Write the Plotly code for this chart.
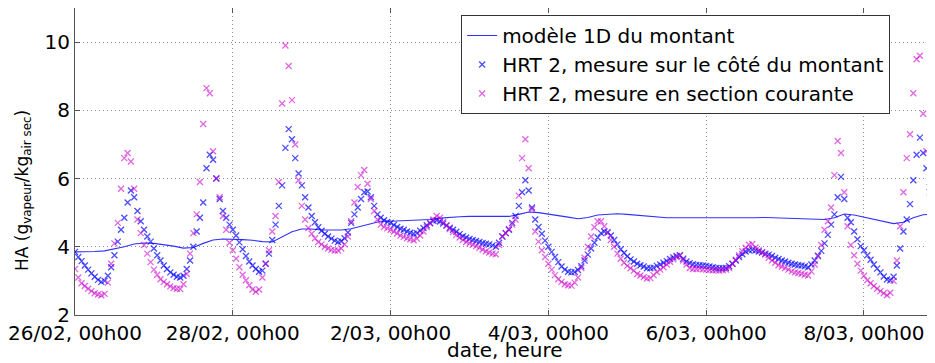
import plotly.graph_objects as go
import pandas as pd

START = "2014-02-26 00:00"

# Hourly measurements (g_vapeur / kg_air sec), from 26/02 00h00
cote_montant = [
    3.85, 3.70, 3.58, 3.45, 3.33, 3.22, 3.12, 3.03, 2.97, 3.00, 3.15, 3.40, 3.75, 4.15, 4.50, 4.85, 5.30, 5.65, 5.45, 5.05, 4.75, 4.50, 4.30, 4.15,
    3.95, 3.75, 3.60, 3.45, 3.35, 3.25, 3.18, 3.12, 3.10, 3.15, 3.35, 3.60, 4.00, 4.45, 4.85, 5.30, 6.30, 6.70, 6.55, 6.00, 5.40, 5.05, 4.85, 4.65,
    4.50, 4.33, 4.13, 3.93, 3.73, 3.57, 3.45, 3.35, 3.27, 3.30, 3.50, 3.80, 4.20, 4.65, 5.20, 5.80, 6.90, 7.45, 7.15, 6.60, 6.15, 5.80, 5.45, 5.15,
    4.90, 4.72, 4.57, 4.47, 4.38, 4.30, 4.24, 4.18, 4.14, 4.16, 4.25, 4.42, 4.70, 4.95, 5.15, 5.40, 5.60, 5.62, 5.45, 5.20, 4.95, 4.85, 4.78, 4.73,
    4.70, 4.64, 4.58, 4.53, 4.50, 4.45, 4.41, 4.38, 4.40, 4.47, 4.55, 4.63, 4.70, 4.76, 4.78, 4.74, 4.68, 4.62, 4.56, 4.50, 4.44, 4.37, 4.31, 4.27,
    4.23, 4.20, 4.17, 4.14, 4.11, 4.09, 4.07, 4.04, 4.00, 4.12, 4.30, 4.40, 4.50, 4.70, 4.90, 5.20, 5.60, 5.95, 5.65, 5.15, 4.80, 4.58, 4.38, 4.18,
    4.00, 3.85, 3.70, 3.55, 3.42, 3.33, 3.27, 3.25, 3.26, 3.32, 3.43, 3.60, 3.77, 3.95, 4.12, 4.27, 4.40, 4.45, 4.43, 4.33, 4.20, 4.07, 3.93, 3.82,
    3.72, 3.63, 3.57, 3.50, 3.46, 3.42, 3.37, 3.37, 3.39, 3.44, 3.48, 3.53, 3.58, 3.64, 3.69, 3.73, 3.75, 3.65, 3.57, 3.52, 3.49, 3.47, 3.46, 3.45,
    3.44, 3.42, 3.40, 3.38, 3.37, 3.37, 3.38, 3.43, 3.50, 3.60, 3.70, 3.78, 3.86, 3.90, 3.91, 3.89, 3.86, 3.83, 3.80, 3.77, 3.73, 3.68, 3.64, 3.60,
    3.57, 3.53, 3.50, 3.48, 3.46, 3.45, 3.43, 3.40, 3.48, 3.60, 3.74, 3.88, 4.10, 4.35, 4.65, 4.95, 5.45, 6.05, 5.40, 4.85, 4.72, 4.45, 4.22, 4.02,
    3.90, 3.75, 3.62, 3.48, 3.36, 3.25, 3.13, 3.04, 3.02, 3.12, 3.45, 3.95, 4.45, 4.80, 5.25, 5.95, 6.70, 7.20, 6.75, 6.30, 5.75, 5.50,
]

section_courante = [
    3.35, 3.10, 2.93, 2.85, 2.77, 2.70, 2.64, 2.60, 2.58, 2.62, 2.95, 3.50, 4.10, 4.70, 5.70, 6.60, 6.75, 6.50, 5.70, 4.80, 4.40, 4.05, 3.80, 3.55,
    3.33, 3.18, 3.05, 2.97, 2.90, 2.84, 2.79, 2.77, 2.76, 2.90, 3.20, 3.80, 4.40, 4.95, 5.90, 7.60, 8.65, 8.50, 6.80, 6.00, 5.45, 4.90, 4.50, 4.12,
    3.90, 3.65, 3.40, 3.18, 3.02, 2.87, 2.75, 2.68, 2.75, 3.10, 3.50, 3.90, 4.45, 4.90, 5.90, 8.20, 9.90, 9.30, 8.30, 7.00, 5.95, 5.20, 4.80, 4.55,
    4.38, 4.25, 4.14, 4.07, 4.00, 3.95, 3.91, 3.89, 3.89, 3.95, 4.07, 4.30, 4.75, 5.30, 5.75, 6.10, 6.25, 5.85, 5.40, 5.05, 4.80, 4.65, 4.58, 4.54,
    4.50, 4.45, 4.39, 4.33, 4.29, 4.25, 4.22, 4.19, 4.24, 4.33, 4.45, 4.58, 4.68, 4.80, 4.90, 4.85, 4.73, 4.63, 4.52, 4.43, 4.35, 4.27, 4.20, 4.14,
    4.10, 4.06, 4.02, 3.97, 3.92, 3.87, 3.83, 3.80, 3.78, 4.05, 4.30, 4.40, 4.52, 4.65, 4.80, 5.50, 6.60, 7.15, 6.30, 5.10, 4.45, 4.15, 3.90, 3.70,
    3.50, 3.33, 3.17, 3.05, 2.97, 2.90, 2.87, 2.86, 2.95, 3.10, 3.38, 3.68, 4.00, 4.30, 4.57, 4.75, 4.75, 4.60, 4.40, 4.20, 4.00, 3.80, 3.65, 3.53,
    3.44, 3.37, 3.30, 3.20, 3.16, 3.11, 3.07, 3.08, 3.17, 3.26, 3.33, 3.40, 3.48, 3.56, 3.63, 3.70, 3.74, 3.60, 3.48, 3.38, 3.35, 3.35, 3.36, 3.34,
    3.33, 3.32, 3.31, 3.31, 3.30, 3.31, 3.33, 3.38, 3.50, 3.62, 3.75, 3.87, 3.97, 4.06, 4.08, 3.98, 3.90, 3.84, 3.77, 3.68, 3.60, 3.53, 3.46, 3.42,
    3.38, 3.33, 3.28, 3.25, 3.23, 3.21, 3.18, 3.16, 3.28, 3.48, 3.72, 4.05, 4.50, 4.75, 5.15, 6.10, 7.10, 6.75, 5.60, 4.60, 4.05, 3.75, 3.50, 3.30,
    3.15, 3.02, 2.93, 2.85, 2.77, 2.70, 2.64, 2.58, 2.65, 3.00, 3.60, 4.60, 5.60, 6.60, 7.30, 8.50, 9.50, 9.60, 7.90, 6.80, 5.60, 5.30,
]

# 1D model, every 3 hours from 26/02 00h00
modele_1d = [
    3.85, 3.85, 3.86, 3.88, 3.93, 4.00, 4.08, 4.11, 4.10, 4.07, 4.02, 3.96, 3.98, 4.10, 4.20, 4.23,
    4.23, 4.21, 4.19, 4.15, 4.14, 4.28, 4.44, 4.52, 4.52, 4.49, 4.48, 4.49, 4.53, 4.60, 4.68, 4.75,
    4.75, 4.76, 4.77, 4.78, 4.80, 4.84, 4.87, 4.88, 4.89, 4.89, 4.89, 4.88, 4.89, 4.95, 5.02, 5.00,
    4.96, 4.93, 4.87, 4.82, 4.86, 4.93, 4.96, 4.97, 4.95, 4.92, 4.89, 4.87, 4.85, 4.85, 4.85, 4.84,
    4.84, 4.83, 4.83, 4.84, 4.84, 4.85, 4.86, 4.85, 4.83, 4.81, 4.80, 4.79, 4.80, 4.85, 4.96, 4.93,
    4.87, 4.80, 4.73, 4.68, 4.72, 4.85, 4.94, 4.96,
]

tick_dates = ["2014-02-26", "2014-02-28", "2014-03-02", "2014-03-04", "2014-03-06", "2014-03-08"]
tick_labels = ["26/02, 00h00", "28/02, 00h00", "2/03, 00h00", "4/03, 00h00", "6/03, 00h00", "8/03, 00h00"]

t_meas = pd.date_range(START, periods=len(cote_montant), freq="h")
t_model = pd.date_range(START, periods=len(modele_1d), freq="3h")

FONT = "DejaVu Sans"
GRID = "#8c8c8c"
AXIS = "#555555"

fig = go.Figure()
fig.add_trace(go.Scatter(
    x=t_model, y=modele_1d, mode="lines", name="modèle 1D du montant",
    line=dict(color="#3030ff", width=1.1),
))
fig.add_trace(go.Scatter(
    x=t_meas, y=cote_montant, mode="markers", name="HRT 2, mesure sur le côté du montant",
    marker=dict(symbol="x-thin", size=6, line=dict(color="rgba(0,0,255,0.7)", width=1.3)),
))
fig.add_trace(go.Scatter(
    x=t_meas, y=section_courante, mode="markers", name="HRT 2, mesure en section courante",
    marker=dict(symbol="x-thin", size=6, line=dict(color="rgba(205,0,205,0.6)", width=1.3)),
))

# The page body has an 8px margin: figure is sized/offset to land on the 935x363 window.
fig.update_layout(
    width=927, height=355,
    margin=dict(l=67, r=0, t=0, b=48),
    paper_bgcolor="white", plot_bgcolor="white",
    font=dict(family=FONT, size=20, color="black"),
    showlegend=True,
    legend=dict(
        x=0.449, y=0.977, xanchor="left", yanchor="top",
        bgcolor="white", bordercolor="#333333", borderwidth=1,
        font=dict(family=FONT, size=20),
        tracegroupgap=0,
    ),
    annotations=[
        dict(text="HA (g<sub>vapeur</sub>/kg<sub>air sec</sub>)", textangle=-90,
             xref="paper", yref="paper", x=-0.060, y=0.405,
             xanchor="center", yanchor="middle", showarrow=False,
             font=dict(family=FONT, size=17)),
        dict(text="date, heure",
             xref="paper", yref="paper", x=0.50, y=-0.115,
             xanchor="center", yanchor="middle", showarrow=False,
             font=dict(family=FONT, size=20)),
    ],
)
fig.update_xaxes(
    range=["2014-02-26 00:00", "2014-03-08 21:36"],
    tickvals=tick_dates, ticktext=tick_labels,
    tickfont=dict(family=FONT, size=20),
    automargin=False,
    showgrid=True, gridcolor=GRID, griddash="1px,3px", gridwidth=1,
    ticks="inside", ticklen=5, tickcolor=AXIS,
    showline=True, linecolor=AXIS, linewidth=1, mirror="ticks",
    zeroline=False,
)
fig.update_yaxes(
    range=[2, 11],
    tickvals=[2, 4, 6, 8, 10],
    tickfont=dict(family=FONT, size=20),
    automargin=False,
    showgrid=True, gridcolor=GRID, griddash="1px,3px", gridwidth=1,
    ticks="inside", ticklen=5, tickcolor=AXIS,
    showline=True, linecolor=AXIS, linewidth=1, mirror="ticks",
    zeroline=False,
)

fig.write_html("out.html")
